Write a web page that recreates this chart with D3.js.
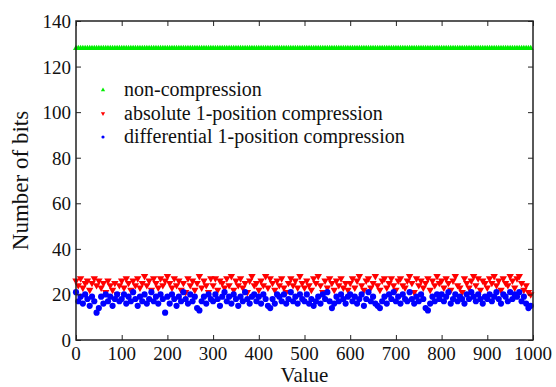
<!DOCTYPE html>
<html>
<head>
<meta charset="utf-8">
<script src="https://cdn.jsdelivr.net/npm/d3@7"></script>
<style>
  body { margin: 0; background: #fff; }
</style>
</head>
<body>
<svg id="chart" width="556" height="387"></svg>
<script>
// sample positions (every 5 values)
var sampleValues = d3.range(0, 1000, 5);

var nonCompressionBits = [
  128,128,128,128,128,128,128,128,128,128,128,128,128,128,128,128,128,128,128,128,
  128,128,128,128,128,128,128,128,128,128,128,128,128,128,128,128,128,128,128,128,
  128,128,128,128,128,128,128,128,128,128,128,128,128,128,128,128,128,128,128,128,
  128,128,128,128,128,128,128,128,128,128,128,128,128,128,128,128,128,128,128,128,
  128,128,128,128,128,128,128,128,128,128,128,128,128,128,128,128,128,128,128,128,
  128,128,128,128,128,128,128,128,128,128,128,128,128,128,128,128,128,128,128,128,
  128,128,128,128,128,128,128,128,128,128,128,128,128,128,128,128,128,128,128,128,
  128,128,128,128,128,128,128,128,128,128,128,128,128,128,128,128,128,128,128,128,
  128,128,128,128,128,128,128,128,128,128,128,128,128,128,128,128,128,128,128,128,
  128,128,128,128,128,128,128,128,128,128,128,128,128,128,128,128,128,128,128,128
];

var absoluteBits = [
  26,24,27,23,25,26,22,25,27,24,26,23,25,21,26,24,22,25,20,24,
  26,23,27,25,22,26,24,27,23,25,28,24,26,22,27,25,23,27,24,26,
  28,25,23,27,24,26,22,25,21,27,24,26,22,25,28,23,26,24,21,27,
  24,27,22,26,25,23,27,24,28,22,26,24,27,23,25,21,26,28,24,25,
  22,26,24,28,23,27,25,22,26,24,27,23,21,25,27,24,26,23,28,25,
  23,26,24,22,27,25,28,24,21,26,23,27,25,22,26,24,27,23,25,22,
  25,27,23,26,28,24,22,26,27,23,25,28,24,22,26,27,23,25,27,24,
  22,26,27,24,23,26,28,25,21,27,24,26,23,25,27,22,26,24,28,25,
  26,23,27,25,22,26,28,24,23,21,27,25,23,26,28,24,27,22,26,25,
  23,27,25,28,24,26,22,27,25,24,28,26,23,27,28,25,22,24,21,20
];

var differentialBits = [
  21,17,19,16,20,18,15,19,17,12,14,19,16,20,17,19,15,18,20,17,
  18,20,16,19,17,21,18,15,19,17,20,16,18,21,17,19,16,20,18,12,
  19,16,20,18,15,19,17,21,18,16,20,17,19,14,13,17,19,16,20,18,
  17,20,18,15,19,21,17,19,16,20,18,15,19,17,21,18,16,19,20,17,
  19,16,20,18,15,14,18,16,20,19,17,20,16,18,21,17,19,16,20,18,
  17,20,16,18,15,17,19,16,20,18,21,17,14,16,19,17,20,18,16,19,
  20,17,19,16,18,20,15,18,21,17,19,16,15,14,17,19,16,20,18,21,
  17,19,16,20,18,17,21,18,16,19,17,20,18,14,13,16,19,17,20,18,
  20,17,19,21,16,18,20,17,19,18,16,20,18,21,19,17,20,18,16,19,
  18,20,17,19,21,18,16,20,19,17,21,18,20,19,21,17,19,16,14,15
];

var seriesNames = ["non-compression", "absolute 1-position compression", "differential 1-position compression"];
var xTicks = [0, 100, 200, 300, 400, 500, 600, 700, 800, 900, 1000];
var yTicks = [0, 20, 40, 60, 80, 100, 120, 140];

var margin = { left: 76, top: 21, right: 23, bottom: 47 },
    width = 556, height = 387,
    svg = d3.select("#chart");

var x = d3.scaleLinear().domain([0, 1000]).range([margin.left, width - margin.right]);
var y = d3.scaleLinear().domain([0, 140]).range([height - margin.bottom, margin.top]);

var series = [
  { name: seriesNames[0], values: nonCompressionBits, color: "#00ee00", type: d3.symbolTriangle, size: 16, rotate: 0 },
  { name: seriesNames[1], values: absoluteBits, color: "#ff0000", type: d3.symbolTriangle, size: 24, rotate: 180 },
  { name: seriesNames[2], values: differentialBits, color: "#0000ff", type: d3.symbolCircle, size: 30, rotate: 0 }
];

// points
series.forEach(function (s) {
  svg.append("g")
    .selectAll("path")
    .data(s.values)
    .join("path")
    .attr("d", d3.symbol().type(s.type).size(s.size))
    .attr("fill", s.color)
    .attr("transform", (d, i) => `translate(${x(sampleValues[i])},${y(d)}) rotate(${s.rotate})`);
});

// ticks pointing inward on all four sides
var axisColor = "#222";
svg.append("g")
  .attr("transform", `translate(0,${y(0)})`)
  .call(d3.axisTop(x).tickValues(xTicks).tickSize(5).tickFormat(""))
  .call(g => g.select(".domain").remove());
svg.append("g")
  .attr("transform", `translate(0,${y(140)})`)
  .call(d3.axisBottom(x).tickValues(xTicks).tickSize(5).tickFormat(""))
  .call(g => g.select(".domain").remove());
svg.append("g")
  .attr("transform", `translate(${x(0)},0)`)
  .call(d3.axisRight(y).tickValues(yTicks).tickSize(5).tickFormat(""))
  .call(g => g.select(".domain").remove());
svg.append("g")
  .attr("transform", `translate(${x(1000)},0)`)
  .call(d3.axisLeft(y).tickValues(yTicks).tickSize(5).tickFormat(""))
  .call(g => g.select(".domain").remove());
svg.selectAll(".tick line").attr("stroke", axisColor).attr("stroke-width", 1);

svg.append("rect")
  .attr("x", x(0)).attr("y", y(140))
  .attr("width", x(1000) - x(0)).attr("height", y(0) - y(140))
  .attr("fill", "none").attr("stroke", axisColor).attr("stroke-width", 1.5);

var fontFamily = "'Liberation Serif', 'DejaVu Serif', serif";

// tick labels
svg.append("g").selectAll("text")
  .data(xTicks).join("text")
  .attr("x", d => x(d)).attr("y", y(0) + 20)
  .attr("text-anchor", "middle")
  .attr("font-family", fontFamily)
  .attr("font-size", 19)
  .attr("fill", "#111")
  .text(d => d);
svg.append("g").selectAll("text")
  .data(yTicks).join("text")
  .attr("x", x(0) - 5).attr("y", d => y(d) + 7)
  .attr("text-anchor", "end")
  .attr("font-family", fontFamily)
  .attr("font-size", 19)
  .attr("fill", "#111")
  .text(d => d);

// axis titles
svg.append("text")
  .attr("x", (x(0) + x(1000)) / 2).attr("y", 382)
  .attr("text-anchor", "middle")
  .attr("font-family", fontFamily).attr("font-size", 21).attr("fill", "#111")
  .text("Value");
svg.append("text")
  .attr("transform", `translate(28,${(y(0) + y(140)) / 2}) rotate(-90)`)
  .attr("text-anchor", "middle")
  .attr("font-family", fontFamily).attr("font-size", 23).attr("fill", "#111")
  .text("Number of bits");

// legend
var legend = svg.append("g").selectAll("g")
  .data(series).join("g")
  .attr("transform", (d, i) => `translate(103,${90 + i * 23.5})`);
legend.append("path")
  .attr("d", d => d3.symbol().type(d.type).size(8)())
  .attr("fill", d => d.color)
  .attr("transform", d => `rotate(${d.rotate})`);
legend.append("text")
  .attr("x", 21).attr("y", 6)
  .attr("font-family", fontFamily)
  .attr("font-size", 20)
  .attr("fill", "#111")
  .text(d => d.name);
</script>
</body>
</html>
